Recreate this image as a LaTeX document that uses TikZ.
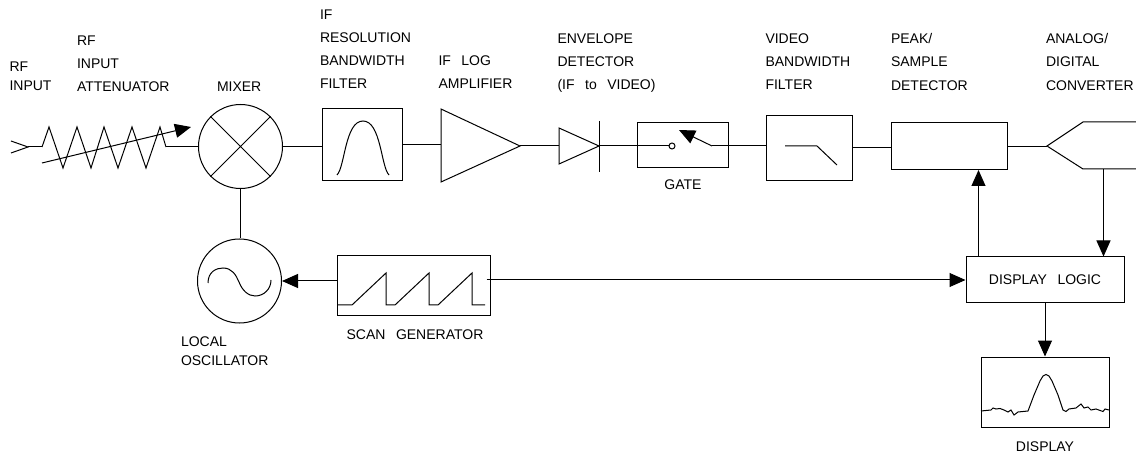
\documentclass[tikz,border=0pt]{standalone}
\usepackage{fontspec}
\setmainfont{Liberation Sans}
\usetikzlibrary{arrows.meta}
\newcommand{\wgap}{\hspace{0.75em}}

\begin{document}
\begin{tikzpicture}[x=1pt, y=-1pt, line width=1pt,
    font=\fontsize{14}{23.2}\selectfont,
    sig/.style={line width=1pt},
    feed/.style={line width=1pt, -{Triangle[length=16pt, width=14pt]}},
    blk/.style={draw, rectangle, inner sep=0pt},
    lbl/.style={align=left, inner sep=0pt, anchor=north west},
    clbl/.style={inner sep=0pt}]

\useasboundingbox (0,0) rectangle (1136,457);

% --- blocks -- name/centre x/centre y/width/height --------------------------
\foreach \blname/\cx/\cy/\bw/\bh in {%
    ifbw/362/145/80/72,
    gate/682.5/145.5/91/45,
    video/809/148/86/65.5,
    peak/949/146.5/116/47,
    scan/413.5/286/153/60,
    screen/1045/392/128/70}
{
  \node[blk, minimum width=\bw pt, minimum height=\bh pt] (\blname) at (\cx,\cy) {};
}
\node[blk, minimum width=158pt, minimum height=46pt] (logic) at (1045,280)
    {DISPLAY\wgap LOGIC};
\node[draw, circle, inner sep=0pt, minimum size=84pt] (mixer) at (240.5,146.5) {};
\node[draw, circle, inner sep=0pt, minimum size=84pt] (lo) at (239.5,281) {};
\node[draw, circle, inner sep=0pt, minimum size=6pt] (contact) at (672,146) {};

\coordinate (rfin) at (28,147);
\coordinate (attin) at (42,147);
\coordinate (attout) at (166,147);
\coordinate (ampin) at (441,146);
\coordinate (ampout) at (520,146);
\coordinate (dioin) at (559,146);
\coordinate (dioout) at (599,146);
\coordinate (pivot) at (712,146);
\coordinate (adcin) at (1047,146);
\coordinate (adcbot) at (1103.5,169);
\coordinate (sense) at (978.5,170);

% --- symbols ----------------------------------------------------------------
\draw[sig] (11,141) -- (rfin) -- (11,153);
\draw[sig] (attin) -- (49,127) -- (63,168) -- (77,127) -- (91,168) -- (104,127)
    -- (118,168) -- (132,127) -- (146,168) -- (160,127) -- (attout);
\draw[feed] (42,163) -- (191,127);
\draw[sig] (mixer.45) -- (mixer.225) (mixer.135) -- (mixer.315);
\draw[sig] (337,175) .. controls (345,167) and (345,121) .. (363,121)
    .. controls (381,121) and (381,167) .. (389,175);
\draw[sig] (441,109) -- (441,182) -- (ampout) -- cycle;
\draw[sig] (559,128) -- (559,164) -- (dioout) -- cycle;
\draw[sig] (599,121) -- (599,172);
\draw[feed] (pivot) -- (679,130);
\draw[sig] (785,146) -- (817,146) -- (837,165);
\draw[sig] (1136,122) -- (1083,122) -- (adcin) -- (1083,169) -- (1136,169);
\draw[sig] (208,283) .. controls (208,272) and (216,268) .. (223,268)
    .. controls (232,268) and (236,275) .. (239,282)
    .. controls (242,290) and (248,296) .. (255,296)
    .. controls (264,296) and (271,289) .. (271,280);
\draw[sig] (337,305) -- (352,305) -- (386,273) -- (386,305) -- (395,305)
    -- (429,273) -- (429,305) -- (438,305) -- (472,273) -- (472,305) -- (485,305);
\draw[sig] (981,411) -- (991,410) -- (993,408) -- (996,409) -- (1000,408.5)
    -- (1004,410) -- (1008,412) -- (1011,410) -- (1014,415) -- (1018,412) -- (1023,411.5)
    -- (1028,411) -- (1034,395) -- (1040,381) -- (1043,376) -- (1046,374.5) -- (1049,376)
    -- (1052,381) -- (1058,395) -- (1063,410) -- (1066,411.5) -- (1069,409) -- (1076,408)
    -- (1081,404) -- (1084,408) -- (1088,407) -- (1091,410) -- (1096,409) -- (1103,411.5)
    -- (1105,409) -- (1109,410);

% --- connectors -------------------------------------------------------------
\foreach \from/\tgt in {attout/mixer.west, mixer.east/ifbw.west, ifbw.east/ampin,
    ampout/dioin, dioout/contact.west, pivot/video.west, video.east/peak.west,
    peak.east/adcin}
{
  \draw[sig] (\from) -- (\from -| \tgt);
}
\draw[sig] (rfin) -- (attin);
\draw[sig] (mixer.south) -- (mixer.south |- lo.north);
\draw[feed] (scan.west |- lo.east) -- (lo.east);
\draw[feed] ([xshift=-4pt]scan.east |- logic.west) -- (logic.west);
\draw[feed] (sense |- logic.north) -- (sense);
\draw[feed] (adcbot) -- (adcbot |- logic.north);
\draw[feed] (logic.south) -- (screen.north);

% --- labels -- name/left x/cap top/text -------------------------------------
\foreach \blname/\lx/\ly/\text in {%
    rf/9/61/{RF\\[-3.5pt]INPUT},
    att/76.5/35/{RF\\INPUT\\ATTENUATOR},
    mix/216.5/81/{MIXER},
    res/319.5/9/{IF\\RESOLUTION\\BANDWIDTH\\FILTER},
    amp/438/55/{IF\wgap LOG\\AMPLIFIER},
    env/557/33/{ENVELOPE\\DETECTOR\\(IF\wgap to\wgap VIDEO)},
    vid/765/33/{VIDEO\\BANDWIDTH\\FILTER},
    pks/890.5/33/{PEAK/\\SAMPLE\\DETECTOR},
    adc/1045.5/33/{ANALOG/\\DIGITAL\\CONVERTER},
    loc/180.5/336/{LOCAL\\[-3.5pt]OSCILLATOR}}
{
  \node[lbl, name=l\blname] at (\lx,\ly) {\text};
}
\node[clbl] (lgate) at (683,185) {GATE};
\node[clbl] (lscan) at (415,335) {SCAN\wgap GENERATOR};
\node[clbl] (ldisp) at (1045,447) {DISPLAY};

\end{tikzpicture}
\end{document}
